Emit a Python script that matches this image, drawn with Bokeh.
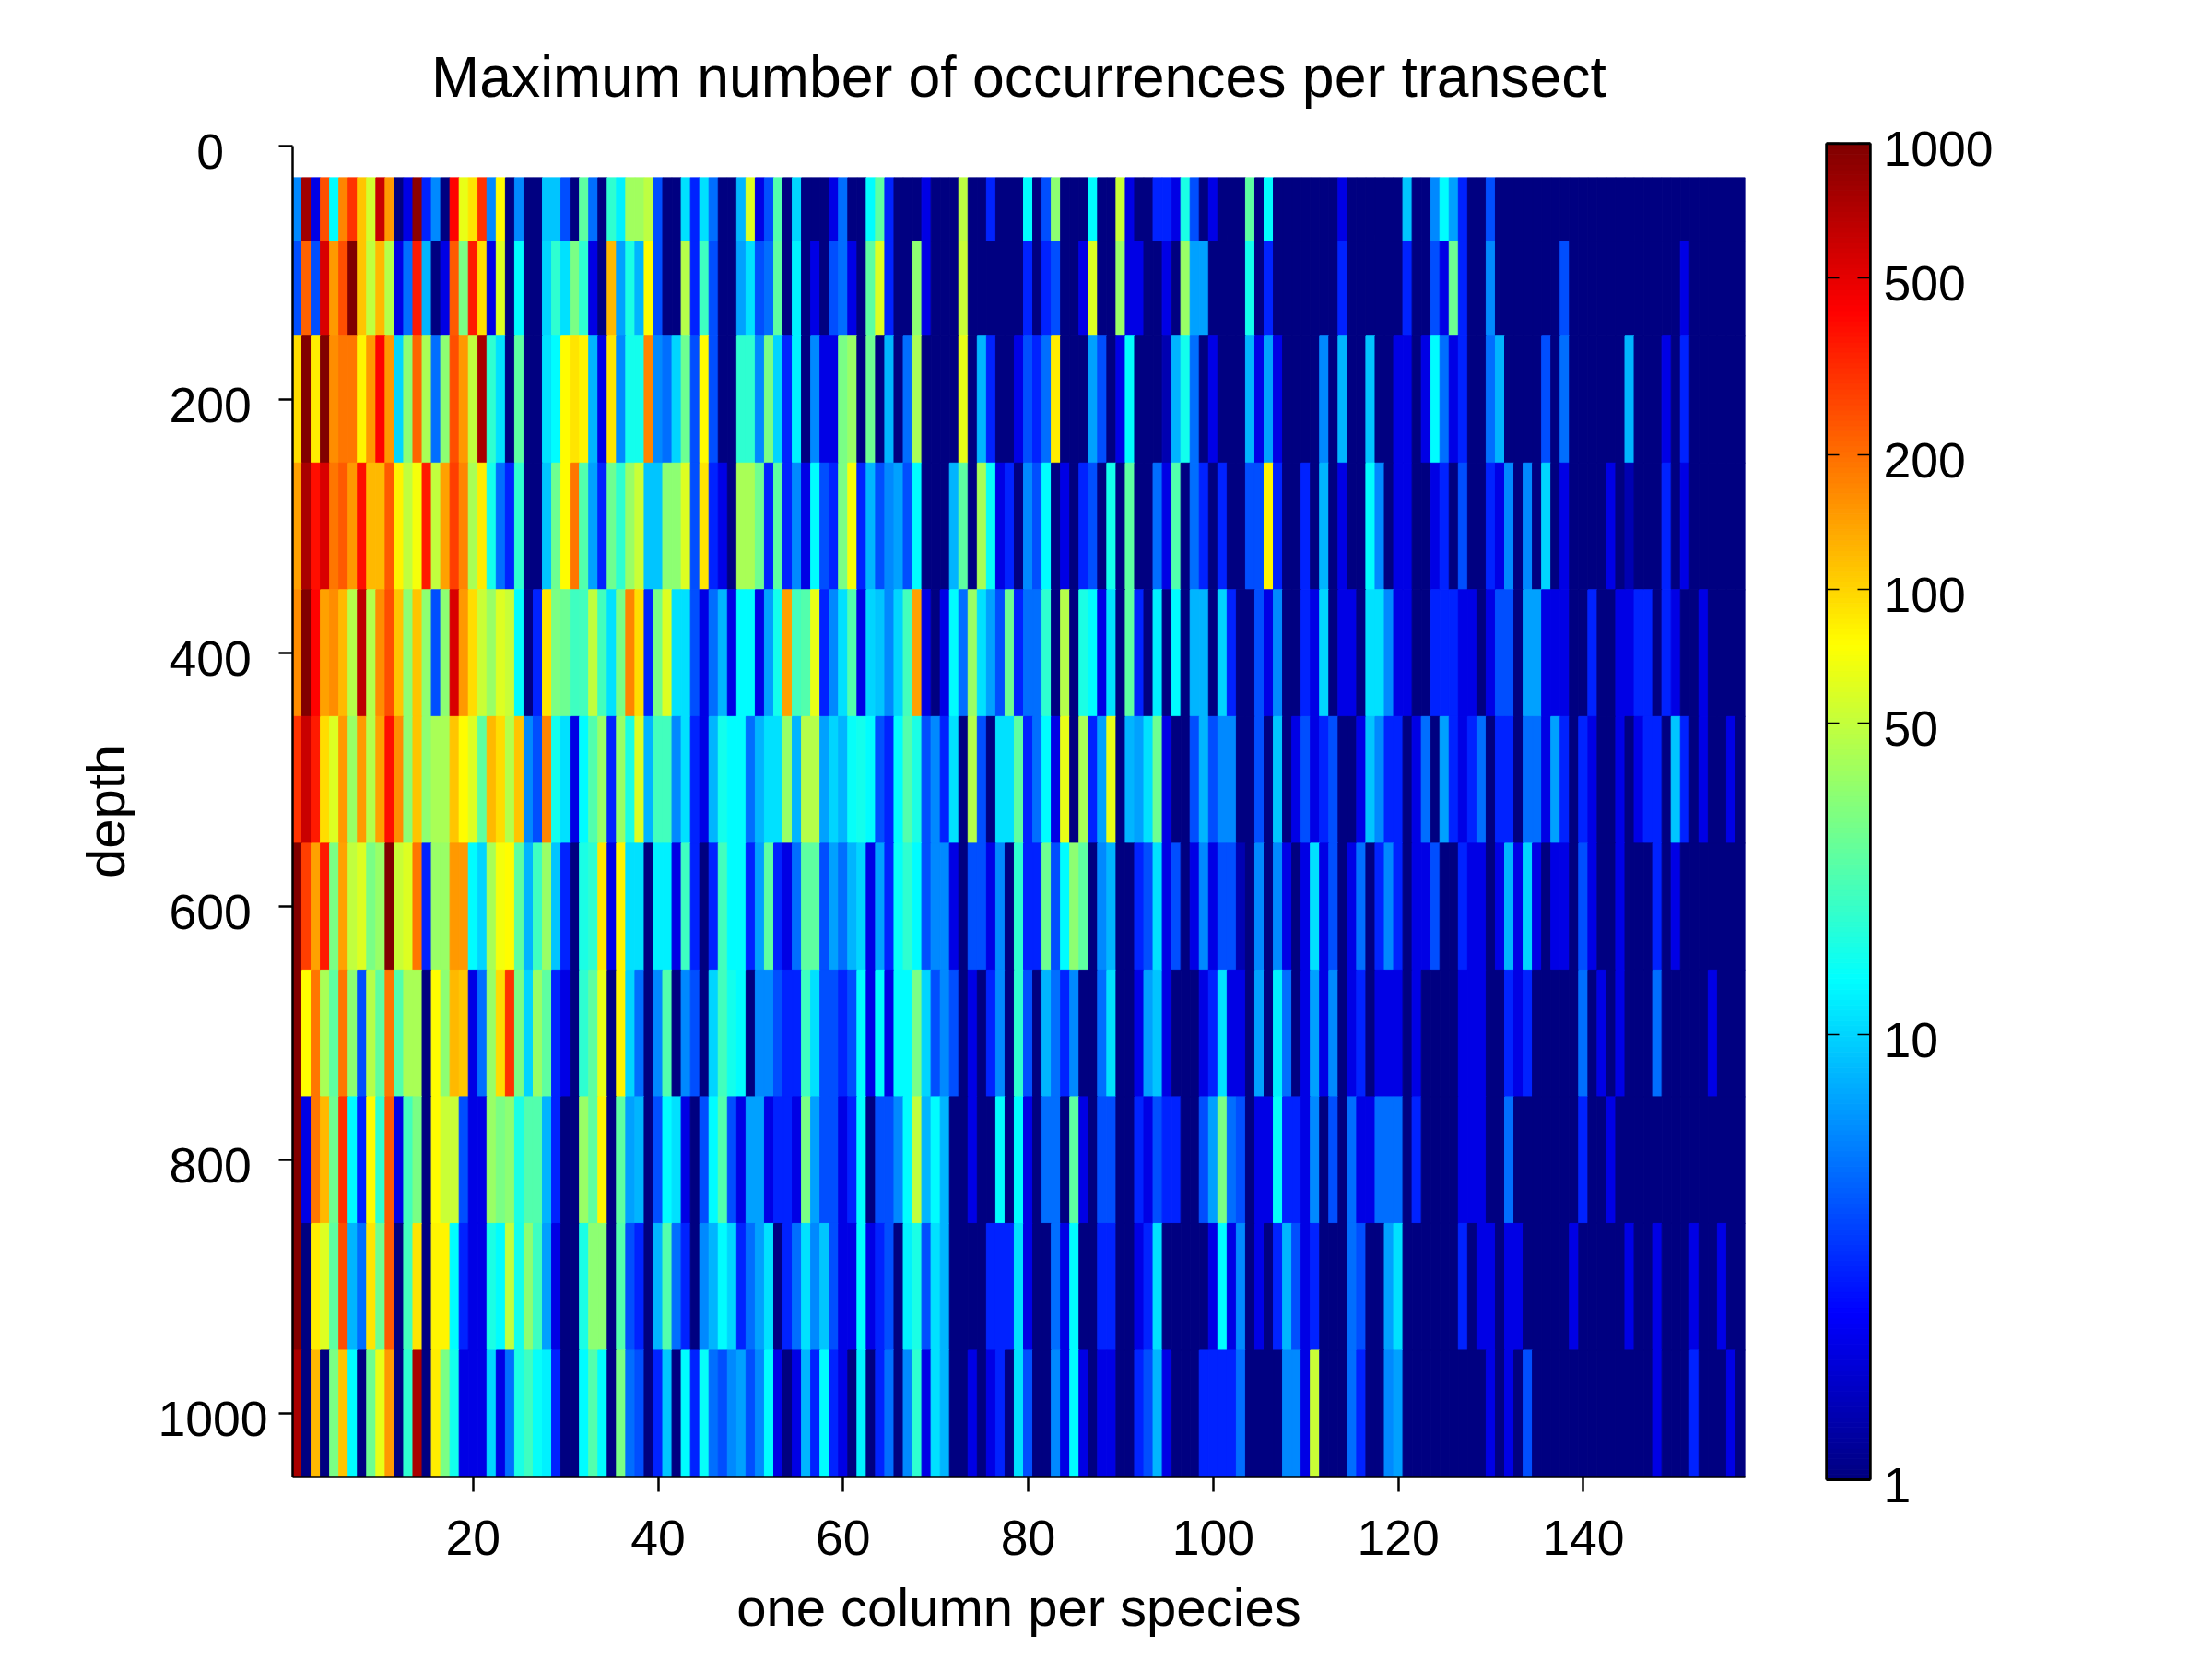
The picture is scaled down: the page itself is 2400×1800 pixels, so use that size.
from bokeh.plotting import figure
from bokeh.layouts import row, column
from bokeh.models import (Range1d, LinearAxis, LogAxis, FixedTicker, LogScale, LogColorMapper,
                          ColumnDataSource, BasicTickFormatter)
from bokeh.transform import transform
from bokeh.embed import file_html
from bokeh.resources import INLINE

TITLE = "Maximum number of occurrences per transect"
XLABEL = "one column per species"
YLABEL = "depth"
X_TICKS = [20, 40, 60, 80, 100, 120, 140]
Y_TICKS = [0, 200, 400, 600, 800, 1000]
CB_TICKS = [1, 10, 50, 100, 200, 500, 1000]

# row edges in depth: 11 transect bands
depth_edges = [25, 75, 150, 250, 350, 450, 550, 650, 750, 850, 950, 1050]

row_01 = [6,800,2,250,13,170,300,110,55,600, 150,1,2,900,3,6,1,420,65,90, 300,6,75,1,6,1,1,9,9,4,
          1,25,5,1,18,12,40,40,48,4, 1,1,11,3,11,5,1,1,8,60, 2,4,23,1,10,1,1,1,2,5,
          1,1,13,25,3,1,1,1,2,1, 1,1,48,1,1,3,1,1,1,13, 1,4,35,1,1,1,13,1,1,52,
          2,1,1,3,3,2,16,4,1,2, 1,1,1,25,1,13,1,1,1,1, 1,1,1,2,1,1,1,1,1,1,
          9,1,1,6,13,7,3,1,1,4, 1,1,1,1,1,1,1,1,1,1, 1,1,1,1,1,1,1,1,1,1, 1,1,1,1,1,1,1]
row_02 = [4,220,4,550,150,250,1000,110,50,120, 45,2,5,350,8,1,2,230,30,350, 95,2,60,1,13,1,1,10,18,11,
          30,18,2,1,120,7,16,8,75,4, 1,1,45,3,20,4,1,1,7,11, 4,5,25,1,12,1,2,1,4,5,
          2,1,25,60,3,1,1,35,2,1, 1,1,52,1,1,1,1,1,1,3, 1,3,4,1,1,2,60,1,1,38,
          2,2,1,1,2,1,38,7,7,1, 1,1,1,15,1,3,1,1,1,1, 1,1,1,3,1,1,1,1,1,1,
          3,1,1,4,2,28,3,1,1,6, 1,1,1,1,1,1,1,4,1,1, 1,1,1,1,1,1,1,1,1,1, 2,1,1,1,1,1,1]
row_03 = [95,1000,85,1000,160,190,190,80,150,420, 150,10,35,210,42,5,35,250,150,50, 750,18,11,1,25,1,1,11,13,75,
          90,80,8,2,90,6,15,15,170,6, 5,10,28,4,75,4,1,1,18,18, 6,30,10,3,12,1,6,2,2,30,
          38,1,28,1,8,1,5,42,1,1, 1,1,65,1,8,3,1,1,2,4, 3,5,85,1,1,1,7,4,1,2,
          13,1,1,1,1.4,8,15,5,1,2, 1,1,1,8,2,7,2,1,1,1, 1,6,1,8,1,1,9,1,1,2,
          2,1,2,13,5,2,3,1,1,5, 8,1,1,1,1,4,1,5,1,1, 1,1,1,1,8,1,1,1,2,1, 3,1,1,1,1,1,1]
row_04 = [140,750,380,550,190,230,150,380,120,120, 230,80,50,70,350,50,140,280,170,42, 85,15,5,3,18,1,1,9,28,75,
          190,23,7,3,28,18,38,52,9,9, 35,35,60,4,90,3,2,1,42,42, 28,3,25,3,6,2,13,4,3,30,
          70,3,8,4,6,7,4,13,1,1, 1,8,25,1,42,14,2,3,1,6, 4,13,1,2,1,3,4,1,15,1,
          25,1,1,5,2,23,1,5,3,1, 3,1,1,4,4,80,3,1,1,3, 1,8,1,2,1,1,13,6,1,2,
          2,1,1,2,3,1,4,1,1,3, 2,6,1,6,1,10,1,2,1,1, 1,1,2,1,1.4,1,1,1,3,1, 2,1,1,1,1,1,1]
row_05 = [160,1000,420,140,160,120,45,650,45,160, 250,110,35,110,35,4,35,550,150,95, 52,38,60,52,13,1,3,90,30,28,
          20,21,50,21,11,30,170,95,3,30, 60,11,11,4,2,5,8,2,13,13, 2,7,15,140,21,23,65,3,6,11,
          23,2,10,9,6,10,21,140,2,1, 2,13,5,38,11,7,4,28,3,5, 5,18,1,45,1,16,13,2,11,1,
          25,3,1,12,1,13,1,8,8,1, 10,3,1,1,4,2,6,1,1,3, 2,10,1,2,2,1,11,11,6,2,
          2,1,1,3,3,3,2,2,1,2, 4,4,1,7,7,2,2,2,1,1, 3,1,1,2,2,3,3,1,3,2, 1,1,2,1,1,1,1]
row_06 = [300,600,350,95,60,150,38,150,45,140, 380,160,35,110,35,42,42,110,75,60, 25,120,95,45,110,6,4,170,15,11,
          2,13,23,38,3,38,16,60,8,21, 21,6,11,3,2,8,15,13,13,5, 8,11,11,38,8,45,45,7,10,8,
          14,15,13,4,3,13,23,16,4,6, 3,11,1,45,4,1,11,11,25,3, 5,13,2,65,1,42,3,7,65,1,
          8,7,11,28,2,1,1,4,8,4, 6,6,1,1,4,1,9,1,2,4, 2,3,4,1,1,2,9,6,3,3,
          1,2,5,1,7,3,2,3,5,1, 3,3,1,5,5,2,7,3,1,3, 2,1,1,2,1,2,3,3,1,9, 3,1,2,1,1,2,1]
row_07 = [1000,280,140,350,30,140,50,60,30,38, 1000,52,60,190,3,38,38,150,150,13, 10,42,70,75,25,8,20,38,9,3,
          1,16,18,90,2,80,11,11,1,12, 12,2,20,3,1,3,21,13,13,3, 7,25,3,2,5,25,25,4,7,5,
          8,10,2,7,3,14,18,13,4,6, 6,2,1,4,4,2,6,1,18,3, 3,28,4,13,35,25,1,6,8,1,
          1,3,4,11,2,4,1,2,6,2, 4,4,1.4,1,6,1,6,2,1,2, 11,2,4,1,2,5,1,3,6,3,
          1,2,2,4,1,1,3,2,2,1, 2,8,2,10,2,1,2,2,1,4, 2,1,1,2,1,1,1,3,1,2, 1,1,1,1,1,1,1]
row_08 = [1000,75,190,42,25,190,35,4,45,25, 190,23,42,42,1,75,35,120,110,2, 5,38,95,300,30,10,38,25,3,2,
          1,18,25,65,1,80,10,5,1,6, 23,1,6,4,1,10,21,15,13,1, 6,6,4,3,3,20,11,4,4,3,
          4,13,2,13,2,13,13,30,10,4, 6,4,1,2,1,3,6,1,18,4, 1,8,5,3,6,1,1,5,11,1,
          1,2,7,9,2,1,1,1,2,3, 11,2,2,1,7,1,12,5,1,2, 7,2,6,1,2,3,1,2,2,2,
          1,2,1,1,1,1,2,2,2,1, 1,3,2,3,1,1,1,1,1,5, 1,2,1,2,1,1,1,5,1,1, 1,1,1,2,1,1,1]
row_09 = [1000,2,190,120,28,300,13,3,75,18, 230,2,21,30,1,75,52,52,4,2, 2,38,30,35,16,23,23,8,3,1,
          1,38,25,80,1,25,7,8,1,4, 13,11,2,1,4,13,23,4,2,7, 7,2,3,3,2,30,7,4,4,2,
          3,13,1,4,4,6,13,50,8,13, 8,1,1,2,1,1,13,1,13,2, 1,5,5,1,25,2,1,4,4,1,
          1,3,2,4,3,3,1,1,4,7, 30,5,4,1,2,2,14,3,3,2, 6,1,4,1,5,2,2,5,5,5,
          1,3,1,1,1,1,2,2,2,1, 1,5,1,1,1,1,1,1,1,3, 1,1,2,1,1,1,1,1,1,1, 1,1,1,1,1,1,1]
row_10 = [1000,1,85,60,25,250,8,5,90,28, 230,1,21,90,1,80,80,13,3,2, 2,16,13,50,15,35,20,7,2,1,
          1,16,35,35,1,23,4,3,1,8, 23,5,3,1,6,8,13,10,3,5, 7,11,1,3,5,11,6,9,4,2,
          2,13,2,3,4,1,12,16,4,11, 8,1,1,1,1,3,3,3,11,2, 1,1,5,2,13,1,1,3,3,1,
          1,2,3,11,1,1,1,1,1,2, 13,2,6,1,2,1,3,8,4,2, 3,1,1,1,5,4,1,1,7,11,
          1,1,1,1,1,1,3,1,2,2, 1,2,2,1,1,1,1,1,2,1, 1,1,1,1,2,1,1,2,1,1, 1,2,1,1,2,1,1]
row_11 = [750,1,120,1,30,110,13,1,28,65, 150,1,18,750,1,85,30,15,2,2, 2,10,2,5,16,20,14,12,3,1,
          1,13,23,13,1,30,5,4,1,3, 9,1,13,3,14,5,4,6,7,4, 6,13,2,1,2,8,3,13,3,2,
          1,12,1,3,5,1,6,18,2,11, 8,1,1,2,1,2,3,1,11,4, 1,1,6,2,13,2,1,2,2,1,
          1,3,4,8,2,1,1,1,3,3, 3,3,5,1,1,1,1,6,6,2, 52,1,1,1,5,3,1,1,6,7,
          1,1,1,1,1,1,1,1,1,2, 1,2,1,4,1,1,1,1,1,1, 1,1,1,1,1,1,1,2,1,1, 1,3,1,1,1,2,1]
rows = [row_01, row_02, row_03, row_04, row_05, row_06, row_07, row_08, row_09, row_10, row_11]
assert all(len(r) == 157 for r in rows), [len(r) for r in rows]


def jet(n):
    out = []
    for i in range(n):
        t = (i + 0.5) / n
        def ramp(c):
            return max(0.0, min(1.0, 1.5 - abs(4 * t - c)))
        out.append("#%02x%02x%02x" % (round(255 * ramp(3)), round(255 * ramp(2)), round(255 * ramp(1))))
    return out


palette = jet(256)
mapper = LogColorMapper(palette=palette, low=1, high=1000)

FONT = "Liberation Sans"
TICK_PX = "53.5px"
LABEL_PX = "58px"

# main heat map
left, right, bottom, top, val = [], [], [], [], []
for r, vals in enumerate(rows):
    for c, v in enumerate(vals):
        left.append(c + 0.5)
        right.append(c + 1.5)
        top.append(depth_edges[r])
        bottom.append(depth_edges[r + 1])
        val.append(v)
src = ColumnDataSource(dict(left=left, right=right, top=top, bottom=bottom, val=val))

p = figure(width=1953, height=1792, output_backend="svg", toolbar_location=None,
           x_range=Range1d(0.5, 157.5), y_range=Range1d(1050, 0),
           min_border_left=317, min_border_right=60, min_border_top=158, min_border_bottom=190,
           x_axis_location=None, y_axis_location=None)
p.grid.visible = False
p.outline_line_color = None
p.background_fill_color = "white"
p.quad(left="left", right="right", top="top", bottom="bottom", source=src,
       fill_color=transform("val", mapper), line_color=transform("val", mapper), line_width=1)

p.title.text = TITLE
p.title.text_font = FONT
p.title.text_font_size = "62.5px"
p.title.text_font_style = "normal"
p.title.text_color = "black"
p.title.align = "center"
p.title.offset = 6
p.title.standoff = 81

xa = LinearAxis(ticker=FixedTicker(ticks=X_TICKS), axis_label=XLABEL)
xa.major_tick_out = 16
xa.major_tick_in = 0
xa.major_tick_line_width = 2.5
xa.axis_line_width = 2.5
xa.minor_tick_line_color = None
xa.major_label_text_font = FONT
xa.major_label_text_font_size = TICK_PX
xa.major_label_text_color = "black"
xa.major_label_standoff = 31
xa.axis_label_text_font = FONT
xa.axis_label_text_font_size = LABEL_PX
xa.axis_label_text_font_style = "normal"
xa.axis_label_text_color = "black"
xa.axis_label_standoff = 21
p.add_layout(xa, "below")

# tick marks and line, with the labels on a second axis set slightly lower (as in the reference)
ya = LinearAxis(ticker=FixedTicker(ticks=Y_TICKS),
                major_label_overrides={t: "" for t in Y_TICKS})
ya.major_tick_out = 15
ya.major_tick_in = 0
ya.major_tick_line_width = 2.5
ya.axis_line_width = 2.5
ya.minor_tick_line_color = None
ya.major_label_standoff = 0
ya.major_label_text_font_size = "1px"
p.add_layout(ya, "left")

p.extra_y_ranges["lbl"] = Range1d(1050 - 4.4, -4.4)
# the reference centres these labels; trailing spaces give that with the axis's right alignment
FIG, THIRD = "\u2007", "\u2004"
pad = {1: FIG + THIRD, 3: THIRD, 4: ""}
yl = LinearAxis(y_range_name="lbl", ticker=FixedTicker(ticks=Y_TICKS), axis_label=YLABEL,
                major_label_overrides={t: str(t) + pad[len(str(t))] for t in Y_TICKS})
yl.axis_line_color = None
yl.major_tick_line_color = None
yl.minor_tick_line_color = None
yl.major_tick_out = 0
yl.major_tick_in = 0
yl.major_label_standoff = 12
yl.major_label_text_font = FONT
yl.major_label_text_font_size = TICK_PX
yl.major_label_text_color = "black"
yl.axis_label_text_font = FONT
yl.axis_label_text_font_size = LABEL_PX
yl.axis_label_text_font_style = "normal"
yl.axis_label_text_color = "black"
yl.axis_label_standoff = 21
p.add_layout(yl, "left")

# colour bar
DEC = 483.2  # px per decade on the bar
lo = 10 ** (-25 / DEC)
hi = 1000 * 10 ** (9.3 / DEC)
n = len(palette)
cb_bottom = [10 ** (3 * i / n) for i in range(n)]
cb_top = [10 ** (3 * (i + 1) / n) for i in range(n)]

cb = figure(width=326, height=1792, output_backend="svg", toolbar_location=None,
            x_range=Range1d(0, 1), y_range=Range1d(lo, hi), y_axis_type="log",
            min_border_left=28, min_border_right=250, min_border_top=146, min_border_bottom=162,
            x_axis_location=None, y_axis_location=None)
cb.grid.visible = False
cb.outline_line_color = None
cb.quad(left=0, right=1, bottom=cb_bottom, top=cb_top, fill_color=palette, line_color=palette, line_width=1)
cb.quad(left=0, right=1, bottom=CB_TICKS[0], top=CB_TICKS[-1], fill_color=None, line_color="black", line_width=3)


def bar_axis():
    a = LogAxis(ticker=FixedTicker(ticks=CB_TICKS), bounds=(1, 1000),
                major_label_overrides={t: "" for t in CB_TICKS})
    a.major_tick_in = 14
    a.major_tick_out = 0
    a.major_tick_line_width = 1.5
    a.axis_line_width = 2.5
    a.minor_tick_line_color = None
    a.major_label_standoff = 0
    a.major_label_text_font_size = "1px"
    return a


cb.add_layout(bar_axis(), "left")
cb.add_layout(bar_axis(), "right")

shift = 10 ** (6 / DEC)
cb.extra_y_ranges["lbl"] = Range1d(lo * shift, hi * shift)
cb.extra_y_scales["lbl"] = LogScale()
cl = LogAxis(y_range_name="lbl", ticker=FixedTicker(ticks=CB_TICKS), formatter=BasicTickFormatter())
cl.axis_line_color = None
cl.major_tick_line_color = None
cl.minor_tick_line_color = None
cl.major_tick_out = 0
cl.major_tick_in = 0
cl.major_label_standoff = 14
cl.major_label_text_font = FONT
cl.major_label_text_font_size = TICK_PX
cl.major_label_text_color = "black"
cb.add_layout(cl, "right")

layout = row(p, column(cb), spacing=0)
open("out.html", "w").write(file_html(layout, INLINE))
